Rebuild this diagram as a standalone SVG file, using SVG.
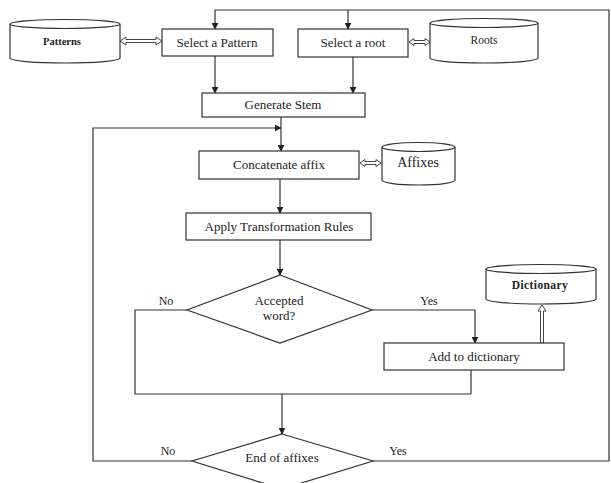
<svg xmlns="http://www.w3.org/2000/svg" width="611" height="483" viewBox="0 0 611 483">
  <style>
    .box { fill: #ffffff; stroke: #333333; stroke-width: 1.2; }
    .cyl { fill: #ffffff; stroke: #333333; stroke-width: 1.2; }
    .line { fill: none; stroke: #333333; stroke-width: 1.2; }
    .dbl { fill: #ffffff; stroke: #444444; stroke-width: 1; }
    .lbl { font-family: "Liberation Serif", "Times New Roman", serif; font-size: 13px; fill: #222222; text-anchor: middle; }
    .db { font-family: "Liberation Serif", "Times New Roman", serif; font-size: 10.5px; font-weight: bold; fill: #222222; text-anchor: middle; }
  </style>
  <defs>
    <marker id="arrow" viewBox="0 0 10 10" refX="9" refY="5" markerWidth="7" markerHeight="7" orient="auto" markerUnits="userSpaceOnUse">
      <path d="M0,0 L10,5 L0,10 z" fill="#222222"/>
    </marker>
  </defs>
  <rect width="611" height="483" fill="#ffffff"/>

  <!-- connectors -->
  <g id="connectors">
    <!-- top bus feeding both selectors, closed by the "Yes" loop on the right -->
    <path class="line" d="M215,10 H609 V461 H373"/>
    <path class="line" d="M215,10 V29" marker-end="url(#arrow)"/>
    <path class="line" d="M348,10 V29" marker-end="url(#arrow)"/>
    <path class="line" d="M215,56 V93" marker-end="url(#arrow)"/>
    <path class="line" d="M353,57 V93" marker-end="url(#arrow)"/>
    <path class="line" d="M281,117 V151" marker-end="url(#arrow)"/>
    <!-- "No" loop back from End of affixes -->
    <path class="line" d="M192,461 H93 V128 H281" marker-end="url(#arrow)"/>
    <path class="line" d="M280,179 V213" marker-end="url(#arrow)"/>
    <path class="line" d="M280,240 V275" marker-end="url(#arrow)"/>
    <!-- Accepted word? branches -->
    <path class="line" d="M187,310 H135 V394 H471"/>
    <path class="line" d="M372,310 H475 V343" marker-end="url(#arrow)"/>
    <path class="line" d="M471,370 V394"/>
    <path class="line" d="M282,394 V434" marker-end="url(#arrow)"/>
    <!-- hollow double-line arrows (data store access) -->
    <path class="dbl" d="M120,41 L126,37 V39.5 H156 V37 L162,41 L156,45 V42.5 H126 V45 Z"/>
    <path class="dbl" d="M409,42 L414,38.5 V40.5 H425 V38.5 L430,42 L425,45.5 V43.5 H414 V45.5 Z"/>
    <path class="dbl" d="M360,163 L365,159.5 V161.5 H376 V159.5 L381,163 L376,166.5 V164.5 H365 V166.5 Z"/>
    <path class="dbl" d="M542,305 L546,311 H543.5 V343 H540.5 V311 H538 Z"/>
  </g>

  <!-- data stores -->
  <g id="patterns">
    <path class="cyl" d="M10,24 V58 A55,5 0 0 0 120,58 V24"/>
    <ellipse class="cyl" cx="65" cy="24" rx="55" ry="4.5"/>
    <text class="db" x="62" y="45">Patterns</text>
  </g>
  <g id="roots">
    <path class="cyl" d="M430,23 V58 A54,5 0 0 0 538,58 V23"/>
    <ellipse class="cyl" cx="484" cy="23" rx="54" ry="4.5"/>
    <text class="lbl" x="484" y="44" style="font-size:11.5px">Roots</text>
  </g>
  <g id="affixes">
    <path class="cyl" d="M382,147 V180 A36.5,5 0 0 0 455,180 V147"/>
    <ellipse class="cyl" cx="418.5" cy="147" rx="36.5" ry="4.5"/>
    <text class="lbl" x="418" y="167" style="font-size:14px">Affixes</text>
  </g>
  <g id="dictionary">
    <path class="cyl" d="M486,269 V299 A55,5 0 0 0 596,299 V269"/>
    <ellipse class="cyl" cx="541" cy="269" rx="55" ry="4.5"/>
    <text class="db" x="540" y="289" style="font-size:11.5px;letter-spacing:0.4px">Dictionary</text>
  </g>

  <!-- process steps -->
  <g id="select-pattern">
    <rect class="box" x="162" y="29" width="111" height="27"/>
    <text class="lbl" x="217" y="47">Select a Pattern</text>
  </g>
  <g id="select-root">
    <rect class="box" x="298" y="29" width="110" height="28"/>
    <text class="lbl" x="353" y="47">Select a root</text>
  </g>
  <g id="generate-stem">
    <rect class="box" x="202" y="93" width="163" height="24"/>
    <text class="lbl" x="283" y="109">Generate Stem</text>
  </g>
  <g id="concatenate-affix">
    <rect class="box" x="199" y="151" width="160" height="28"/>
    <text class="lbl" x="279" y="169">Concatenate affix</text>
  </g>
  <g id="apply-rules">
    <rect class="box" x="186" y="213" width="185" height="27"/>
    <text class="lbl" x="279" y="231">Apply Transformation Rules</text>
  </g>
  <g id="accepted-word">
    <path class="box" d="M280,275 L372,310 L280,343 L187,310 Z"/>
    <text class="lbl" x="279" y="305">Accepted</text>
    <text class="lbl" x="279" y="320">word?</text>
  </g>
  <g id="add-to-dictionary">
    <rect class="box" x="384" y="343" width="180" height="27"/>
    <text class="lbl" x="474" y="361">Add to dictionary</text>
  </g>
  <g id="end-of-affixes">
    <path class="box" d="M282,434 L373,461 L282,489 L192,461 Z"/>
    <text class="lbl" x="282" y="462">End of affixes</text>
  </g>

  <!-- branch labels -->
  <g id="branch-labels">
    <text class="lbl" x="166" y="305" style="font-size:12px">No</text>
    <text class="lbl" x="429" y="305" style="font-size:12px">Yes</text>
    <text class="lbl" x="168" y="455" style="font-size:12px">No</text>
    <text class="lbl" x="398" y="455" style="font-size:12px">Yes</text>
  </g>
</svg>
